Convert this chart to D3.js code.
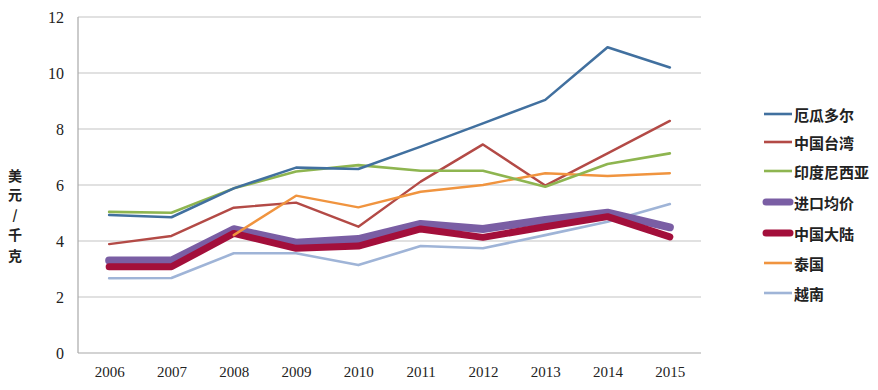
<!DOCTYPE html>
<html><head><meta charset="utf-8">
<script src="https://cdn.jsdelivr.net/npm/d3@7"></script>
<style>
html,body{margin:0;padding:0;background:#fff;}
svg{display:block;}
</style></head>
<body>
<svg id="chart" width="878" height="390"></svg>
<script>
const years = ["2006","2007","2008","2009","2010","2011","2012","2013","2014","2015"];
const yTicks = [0,2,4,6,8,10,12];
const seriesNames = ["厄瓜多尔","中国台湾","印度尼西亚","进口均价","中国大陆","泰国","越南"];
const ecuador   = [4.93,4.85,5.88,6.62,6.57,7.37,8.20,9.04,10.92,10.20];
const taiwan    = [3.89,4.18,5.19,5.37,4.51,6.12,7.45,5.98,7.13,8.29];
const indonesia = [5.04,5.01,5.88,6.48,6.71,6.51,6.51,5.94,6.75,7.13];
const importAvg = [3.30,3.30,4.42,3.94,4.07,4.61,4.43,4.75,5.01,4.49];
const mainland  = [3.08,3.08,4.27,3.74,3.82,4.43,4.13,4.51,4.87,4.15];
const thailand  = [null,null,4.21,5.62,5.20,5.76,6.00,6.42,6.32,6.42];
const vietnam   = [2.67,2.68,3.56,3.56,3.14,3.82,3.74,4.21,4.69,5.32];

const colors = ["#41709f","#b34a46","#8eb550","#7a5ea4","#a30f3b","#f0943f","#9fb4d7"];
const widths = [2.6,2.4,2.6,8,7,2.4,2.6];
const seriesData = [ecuador,taiwan,indonesia,importAvg,mainland,thailand,vietnam];
const drawOrder = [6,3,4,1,5,2,0];

const svg = d3.select("#chart");
const L=78, R=701, T=17, B=353;
const x = d3.scalePoint().domain(years).range([L,R]).padding(0.5);
const y = d3.scaleLinear().domain([0,12]).range([B,T]);

svg.append("g").selectAll("line").data(yTicks.filter(d=>d>0)).join("line")
  .attr("x1",L).attr("x2",R).attr("y1",d=>y(d)).attr("y2",d=>y(d))
  .attr("stroke","#c4c4c4").attr("stroke-width",1.2);

svg.append("line").attr("x1",L).attr("x2",L).attr("y1",T).attr("y2",B).attr("stroke","#a8a8a8").attr("stroke-width",1.2);
svg.append("line").attr("x1",L).attr("x2",R).attr("y1",B).attr("y2",B).attr("stroke","#a8a8a8").attr("stroke-width",1.2);

const serif = "'Liberation Serif','Times New Roman',serif";
const yAxis = d3.axisLeft(y).tickValues(yTicks).tickSize(0).tickPadding(0).tickFormat(d3.format("d"));
const gy = svg.append("g").attr("transform",`translate(${L-14},0)`).call(yAxis);
gy.select(".domain").remove();
gy.selectAll("text").attr("font-family",serif).attr("font-size",16).attr("fill","#222");

const xAxis = d3.axisBottom(x).tickSize(0).tickPadding(0);
const gx = svg.append("g").attr("transform",`translate(0,${B+13})`).call(xAxis);
gx.select(".domain").remove();
gx.selectAll("text").attr("font-family",serif).attr("font-size",15).attr("fill","#222");

const line = d3.line().defined(d=>d!=null).x((d,i)=>x(years[i])).y(d=>y(d));
drawOrder.forEach(k=>{
  svg.append("path").datum(seriesData[k]).attr("d",line)
    .attr("fill","none").attr("stroke",colors[k]).attr("stroke-width",widths[k])
    .attr("stroke-linejoin","round").attr("stroke-linecap","round");
});

const titleChars = ["美","元","/","千","克"];
const titleY = [175,194,214,234,255];
svg.append("g").selectAll("text").data(titleChars).join("text")
  .attr("x",15).attr("y",(d,i)=>titleY[i]).attr("text-anchor","middle")
  .attr("dominant-baseline","central")
  .attr("font-family","'Noto Sans CJK SC',sans-serif").attr("font-weight","bold")
  .attr("font-size",d=>d==="/"?13:14).attr("fill","#222").text(d=>d);

const legY = [114,142,171,202,233,263,293];
const leg = svg.append("g");
seriesNames.forEach((n,i)=>{
  const thick = i===3||i===4;
  leg.append("line").attr("x1",thick?766:764).attr("x2",thick?790:792).attr("y1",legY[i]).attr("y2",legY[i])
    .attr("stroke",colors[i]).attr("stroke-width",thick?7:2.6).attr("stroke-linecap",thick?"round":"butt");
  leg.append("text").attr("x",794).attr("y",legY[i]).attr("dominant-baseline","central")
    .attr("font-family","'Noto Sans CJK SC',sans-serif").attr("font-weight",600)
    .attr("font-size",15).attr("fill","#222").text(n);
});
</script>
</body></html>
